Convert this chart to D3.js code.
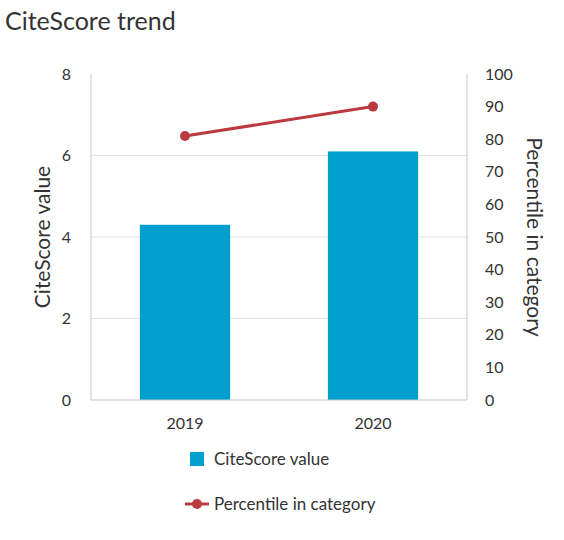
<!DOCTYPE html>
<html><head><meta charset="utf-8">
<script src="https://cdn.jsdelivr.net/npm/d3@7"></script>
<style>body{margin:0;background:#fff;font-family:Lato,"Open Sans",sans-serif;}</style>
</head><body><div id="chart"></div>
<script>
const years = ["2019", "2020"];
const citeScore = [4.3, 6.1];
const percentile = [81, 90];
const leftTicks = [0, 2, 4, 6, 8];
const rightTicks = [0, 10, 20, 30, 40, 50, 60, 70, 80, 90, 100];

const W = 564, H = 540;
const m = { top: 74, left: 91, right: 97, bottom: 140 };
const pw = W - m.left - m.right, ph = H - m.top - m.bottom;

const svg = d3.select("#chart").append("svg").attr("width", W).attr("height", H);

svg.append("text").attr("x", 5).attr("y", 30)
    .style("font-size", "25px").style("fill", "#333").text("CiteScore trend");

const g = svg.append("g").attr("transform", `translate(${m.left},${m.top})`);

const x = d3.scaleBand().domain(years).range([0, pw]).paddingInner(0.52).paddingOuter(0.26);
const yL = d3.scaleLinear().domain([0, 8]).range([ph, 0]);
const yR = d3.scaleLinear().domain([0, 100]).range([ph, 0]);

// grid
g.selectAll(".grid").data(leftTicks.filter(t => t > 0 && t < 8)).enter().append("line")
    .attr("x1", 0).attr("x2", pw).attr("y1", d => yL(d)).attr("y2", d => yL(d))
    .attr("stroke", "#e3e3e3");

// bars
g.selectAll(".bar").data(years).enter().append("rect")
    .attr("x", d => x(d)).attr("width", x.bandwidth())
    .attr("y", (d, i) => yL(citeScore[i])).attr("height", (d, i) => ph - yL(citeScore[i]))
    .attr("fill", "#009fcf");

// axes frame
g.append("line").attr("x1", 0).attr("x2", 0).attr("y1", 0).attr("y2", ph).attr("stroke", "#c8c8c8");
g.append("line").attr("x1", pw).attr("x2", pw).attr("y1", 0).attr("y2", ph).attr("stroke", "#c8c8c8");
g.append("line").attr("x1", 0).attr("x2", pw).attr("y1", ph).attr("y2", ph).attr("stroke", "#c8c8c8");

const tickStyle = s => s.style("font-size", "16px").style("fill", "#333");

g.selectAll(".lt").data(leftTicks).enter().append("text")
    .attr("x", -20).attr("y", d => yL(d)).attr("dy", "0.35em").attr("text-anchor", "end")
    .text(d => d).call(tickStyle);
g.selectAll(".rt").data(rightTicks).enter().append("text")
    .attr("x", pw + 18).attr("y", d => yR(d)).attr("dy", "0.35em")
    .text(d => d).call(tickStyle);
g.selectAll(".xt").data(years).enter().append("text")
    .attr("x", d => x(d) + x.bandwidth() / 2).attr("y", ph + 29).attr("text-anchor", "middle")
    .text(d => d).call(tickStyle);

// axis titles
svg.append("text").attr("transform", `translate(50,${m.top + ph / 2}) rotate(-90)`)
    .attr("text-anchor", "middle").style("font-size", "21px").style("fill", "#333").text("CiteScore value");
svg.append("text").attr("transform", `translate(527,${m.top + ph / 2}) rotate(90)`)
    .attr("text-anchor", "middle").style("font-size", "21px").style("fill", "#333").text("Percentile in category");

// line
const line = d3.line().x((d, i) => x(years[i]) + x.bandwidth() / 2).y(d => yR(d));
g.append("path").datum(percentile).attr("d", line).attr("fill", "none")
    .attr("stroke", "#bb3a3f").attr("stroke-width", 3);
g.selectAll(".pt").data(percentile).enter().append("circle")
    .attr("cx", (d, i) => x(years[i]) + x.bandwidth() / 2).attr("cy", d => yR(d)).attr("r", 5)
    .attr("fill", "#bb3a3f");

// legend
svg.append("rect").attr("x", 190).attr("y", 452).attr("width", 14).attr("height", 14).attr("fill", "#009fcf");
svg.append("text").attr("x", 214).attr("y", 459).attr("dy", "0.35em").style("font-size", "17px").style("fill", "#333").text("CiteScore value");
svg.append("line").attr("x1", 185).attr("x2", 209).attr("y1", 504).attr("y2", 504).attr("stroke", "#bb3a3f").attr("stroke-width", 3);
svg.append("circle").attr("cx", 197).attr("cy", 504).attr("r", 5).attr("fill", "#bb3a3f");
svg.append("text").attr("x", 214).attr("y", 504).attr("dy", "0.35em").style("font-size", "17px").style("fill", "#333").text("Percentile in category");
</script></body></html>
